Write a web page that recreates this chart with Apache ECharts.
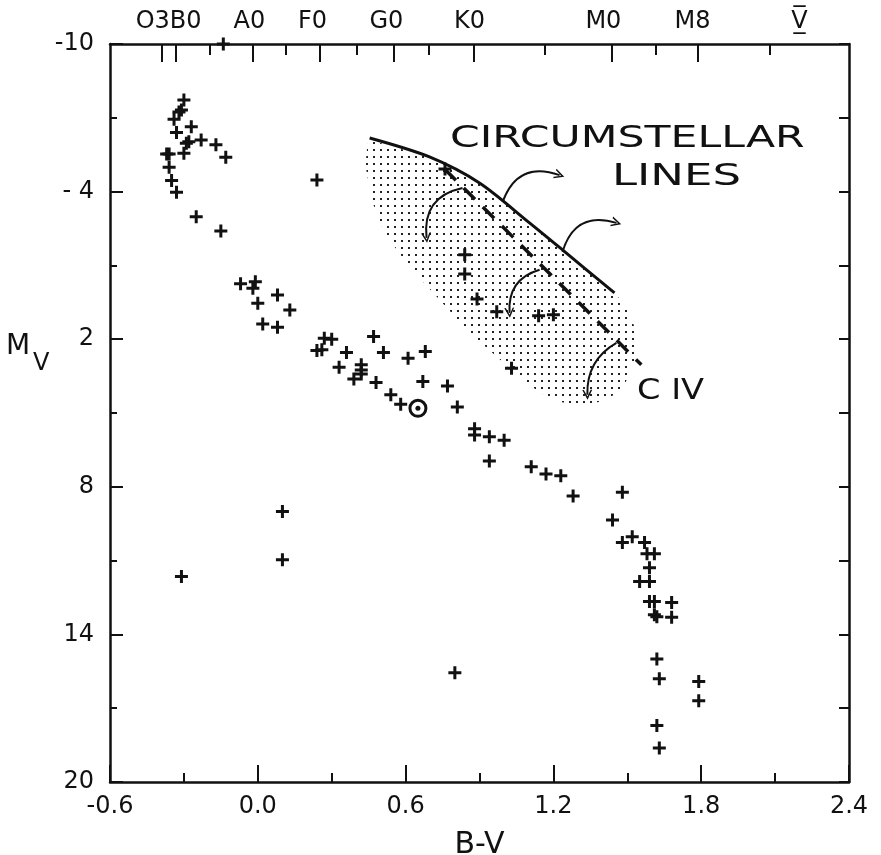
<!DOCTYPE html>
<html>
<head>
<meta charset="UTF-8">
<title>HR diagram</title>
<script src="https://cdn.jsdelivr.net/npm/echarts@6/dist/echarts.min.js"></script>
<style>
  html, body { margin: 0; padding: 0; background: #fff; }
  #main { width: 881px; height: 855px; }
</style>
</head>
<body>
<div id="main"></div>
<script>
// stars: B-V colour and absolute magnitude
var starBV = [-0.14, -0.30, -0.31, -0.32, -0.34, -0.27, -0.33, -0.28, -0.29, -0.23, -0.17, -0.13,
    -0.37, -0.36, -0.30, -0.36, -0.35, -0.33, 0.24, -0.25, -0.15, -0.07, -0.02, -0.01, 0.08, 0.00,
    0.13, 0.02, 0.08, 0.27, 0.30, 0.24, 0.26, 0.36, 0.47, 0.51, 0.33, 0.42, 0.42, 0.42, 0.39, 0.48,
    0.61, 0.68, 0.54, 0.58, 0.67, 0.77, 0.81, 0.88, 0.88, 0.94, 1.00, 0.94, 1.11, 1.17, 1.23, 1.28,
    1.48, 1.44, 1.48, 1.52, 1.57, 1.58, 1.61, 1.59, 1.55, 1.59, 1.59, 1.61, 1.68, 1.61, 1.62, 1.68,
    1.62, 1.63, 1.79, 1.79, 1.62, 1.63, 0.10, 0.10, -0.31, 0.80,
    0.84, 0.84, 0.89, 0.97, 1.14, 1.20, 1.03, 0.76];
var starMV = [-10.0, -7.72, -7.32, -7.24, -6.94, -6.64, -6.40, -6.03, -5.97, -6.10, -5.90, -5.40,
    -5.53, -5.53, -5.56, -4.99, -4.45, -3.97, -4.47, -2.98, -2.40, -0.25, -0.07, -0.34, 0.20, 0.54,
    0.81, 1.38, 1.51, 1.96, 2.00, 2.46, 2.43, 2.54, 1.89, 2.54, 3.14, 3.04, 3.25, 3.41, 3.62, 3.76,
    2.77, 2.50, 4.26, 4.64, 3.72, 3.90, 4.76, 5.64, 5.89, 5.97, 6.11, 6.95, 7.18, 7.48, 7.55, 8.37,
    8.22, 9.35, 10.26, 10.03, 10.26, 10.72, 10.72, 11.29, 11.85, 11.85, 12.66, 12.66, 12.70, 13.20, 13.28, 13.30,
    15.00, 15.80, 15.91, 16.70, 17.70, 18.62, 9.00, 10.97, 11.65, 15.56,
    -1.43, -0.65, 0.37, 0.88, 1.05, 1.01, 3.18, -4.92];

var sunBV = [0.65];
var sunMV = [4.81];

// circumstellar lines limit (solid) and C IV limit (dashed)
var solidBV = [0.454, 0.697, 0.900, 1.103, 1.237, 1.448];
var solidMV = [-6.18, -5.41, -4.35, -2.73, -1.63, 0.12];
var dashBV = [0.758, 1.557];
var dashMV = [-4.92, 3.04];

// outline of the stippled zone
var shadeBV = [0.454, 0.697, 0.900, 1.103, 1.237, 1.448, 1.509, 1.537, 1.529, 1.489, 1.420, 1.327,
    1.225, 1.144, 1.022, 0.860, 0.738, 0.616, 0.514, 0.462, 0.437, 0.445];
var shadeMV = [-6.10, -5.41, -4.35, -2.73, -1.63, 0.12, 0.81, 1.82, 2.84, 3.86, 4.47, 4.67,
    4.55, 4.18, 3.17, 1.74, 0.40, -0.94, -2.32, -3.66, -5.08, -5.90];

// curved arrows
var arrowFromBV = [0.994, 1.237, 0.831, 1.144, 1.456];
var arrowFromMV = [-3.58, -1.55, -4.15, -0.82, 2.15];
var arrowToBV = [1.225, 1.456, 0.685, 1.022, 1.338];
var arrowToMV = [-4.67, -2.73, -2.12, 0.93, 4.26];
var arrowBend = [0.5, 0.5, -0.45, -0.4, -0.3];

// spectral type scale on top
var spectralMajor = [-0.391, -0.334, -0.022, 0.253, 0.553, 0.877, 1.435, 1.784];
var spectralMinor = [-0.196, 0.112, 0.403, 0.693, 1.164, 1.615, 2.080];
var spectralLabelPos = [-0.362, -0.034, 0.222, 0.522, 0.859, 1.403, 1.765, 2.199];
var spectralLabels = ['O3B0', 'A0', 'F0', 'G0', 'K0', 'M0', 'M8', 'V\u0305\u0332'];

var mvMajor = [-10, -4, 2, 8, 14, 20];
var mvMinor = [-7, -1, 5, 11, 17];

var FONT = 'DejaVu Sans';
var INK = '#111';

function zip(a, b) {
    return a.map(function (v, i) { return [v, b[i]]; });
}

// stipple pattern
var dot = document.createElement('canvas');
dot.width = 7; dot.height = 7;
var dctx = dot.getContext('2d');
dctx.fillStyle = '#222';
dctx.fillRect(2, 2, 2, 2);

var plusPath = 'path://M5,0H8V5H13V8H8V13H5V8H0V5H5Z';
var chevron = 'path://M5,0L10,10L8.4,10L5,3.2L1.6,10L0,10Z';

var arrows = arrowFromBV.map(function (b, i) {
    return {
        coords: [[b, arrowFromMV[i]], [arrowToBV[i], arrowToMV[i]]],
        lineStyle: { curveness: arrowBend[i] }
    };
});

var gridBox = { left: 110, right: 32, top: 44, bottom: 73, outerBoundsMode: 'none', containLabel: false };
var axisLine = { show: true, onZero: false, lineStyle: { color: INK, width: 2.5 } };

var myChart = echarts.init(document.getElementById('main'));

var option = {
    animation: false,
    backgroundColor: '#fff',
    grid: [
        Object.assign({}, gridBox),
        Object.assign({}, gridBox),
        Object.assign({}, gridBox)
    ],
    xAxis: [
        {
            gridIndex: 0, type: 'value', position: 'bottom',
            min: -0.6, max: 2.4, interval: 0.6,
            axisLine: axisLine,
            axisTick: { inside: true, length: 17, lineStyle: { color: INK, width: 2 } },
            minorTick: { show: true, splitNumber: 2, length: 9, lineStyle: { color: INK, width: 2 } },
            splitLine: { show: false },
            axisLabel: {
                color: INK, fontFamily: FONT, fontSize: 24, margin: 13,
                formatter: function (v) { return v.toFixed(1); }
            },
            name: 'B-V', nameLocation: 'middle', nameGap: 48,
            nameTextStyle: { color: INK, fontFamily: FONT, fontSize: 30 }
        },
        {
            gridIndex: 1, type: 'value', position: 'top',
            min: -0.6, max: 2.4,
            axisLine: axisLine,
            axisTick: { inside: true, length: 18, customValues: spectralMajor, lineStyle: { color: INK, width: 2 } },
            splitLine: { show: false },
            axisLabel: {
                color: INK, fontFamily: FONT, fontSize: 24, margin: 10,
                customValues: spectralLabelPos,
                formatter: function (v) {
                    var best = 0;
                    spectralLabelPos.forEach(function (p, i) {
                        if (Math.abs(p - v) < Math.abs(spectralLabelPos[best] - v)) best = i;
                    });
                    return spectralLabels[best];
                }
            }
        },
        {
            gridIndex: 2, type: 'value', position: 'top',
            min: -0.6, max: 2.4,
            axisLine: { show: false, onZero: false },
            axisTick: { inside: true, length: 11, customValues: spectralMinor, lineStyle: { color: INK, width: 2 } },
            splitLine: { show: false },
            axisLabel: { show: false }
        }
    ],
    yAxis: [
        {
            gridIndex: 0, type: 'value', position: 'left', inverse: true,
            min: -10, max: 20,
            axisLine: axisLine,
            axisTick: { inside: true, length: 13, customValues: mvMajor, lineStyle: { color: INK, width: 2 } },
            splitLine: { show: false },
            axisLabel: {
                color: INK, fontFamily: FONT, fontSize: 24, margin: 16,
                customValues: mvMajor,
                formatter: function (v) { return v === -4 ? '- 4' : String(v); }
            }
        },
        {
            gridIndex: 1, type: 'value', position: 'right', inverse: true,
            min: -10, max: 20,
            axisLine: axisLine,
            axisTick: { inside: true, length: 10, customValues: mvMajor.concat(mvMinor), lineStyle: { color: INK, width: 2 } },
            splitLine: { show: false },
            axisLabel: { show: false }
        },
        {
            gridIndex: 2, type: 'value', position: 'left', inverse: true,
            min: -10, max: 20,
            axisLine: { show: false, onZero: false },
            axisTick: { inside: true, length: 7, customValues: mvMinor, lineStyle: { color: INK, width: 2 } },
            splitLine: { show: false },
            axisLabel: { show: false }
        }
    ],
    graphic: [
        { type: 'text', x: 450, y: 139, scaleX: 1.42, silent: true,
          style: { text: 'CIRCUMSTELLAR', fill: INK, fontFamily: FONT, fontSize: 30, align: 'left', verticalAlign: 'middle' } },
        { type: 'text', x: 612, y: 177, scaleX: 1.5, silent: true,
          style: { text: 'LINES', fill: INK, fontFamily: FONT, fontSize: 30, align: 'left', verticalAlign: 'middle' } },
        { type: 'text', x: 637, y: 392, scaleX: 1.2, silent: true,
          style: { text: 'C IV', fill: INK, fontFamily: FONT, fontSize: 28, align: 'left', verticalAlign: 'middle' } },
        { type: 'text', x: 6, y: 347, silent: true,
          style: { text: 'M', fill: INK, fontFamily: FONT, fontSize: 28, align: 'left', verticalAlign: 'middle' } },
        { type: 'text', x: 33, y: 364, silent: true,
          style: { text: 'V', fill: INK, fontFamily: FONT, fontSize: 24, align: 'left', verticalAlign: 'middle' } }
    ],
    series: [
        {
            type: 'custom', xAxisIndex: 0, yAxisIndex: 0, silent: true, z: 1,
            data: [0],
            renderItem: function (params, api) {
                var pts = shadeBV.map(function (b, i) { return api.coord([b, shadeMV[i]]); });
                return { type: 'polygon', shape: { points: pts },
                         style: { fill: { image: dot, repeat: 'repeat' }, stroke: null } };
            }
        },
        {
            type: 'line', xAxisIndex: 0, yAxisIndex: 0, silent: true, z: 3,
            data: zip(solidBV, solidMV), smooth: 0.3, symbol: 'none',
            lineStyle: { color: INK, width: 3 }
        },
        {
            type: 'line', xAxisIndex: 0, yAxisIndex: 0, silent: true, z: 3,
            data: zip(dashBV, dashMV), symbol: 'none',
            lineStyle: { color: INK, width: 3.5, type: [16, 11] }
        },
        {
            type: 'lines', coordinateSystem: 'cartesian2d', xAxisIndex: 0, yAxisIndex: 0,
            silent: true, z: 3,
            symbol: ['none', chevron], symbolSize: [12, 10],
            lineStyle: { color: INK, width: 2, opacity: 1 },
            data: arrows
        },
        {
            type: 'scatter', xAxisIndex: 0, yAxisIndex: 0, clip: false, z: 4,
            data: zip(starBV, starMV), symbol: plusPath, symbolSize: 13,
            itemStyle: { color: INK, opacity: 1 }
        },
        {
            type: 'scatter', xAxisIndex: 0, yAxisIndex: 0, z: 4,
            data: zip(sunBV, sunMV), symbol: 'circle', symbolSize: 16,
            itemStyle: { color: 'rgba(0,0,0,0)', borderColor: INK, borderWidth: 3, opacity: 1 }
        },
        {
            type: 'scatter', xAxisIndex: 0, yAxisIndex: 0, z: 4,
            data: zip(sunBV, sunMV), symbol: 'circle', symbolSize: 5,
            itemStyle: { color: INK, opacity: 1 }
        }
    ]
};

myChart.setOption(option);
</script>
</body>
</html>
